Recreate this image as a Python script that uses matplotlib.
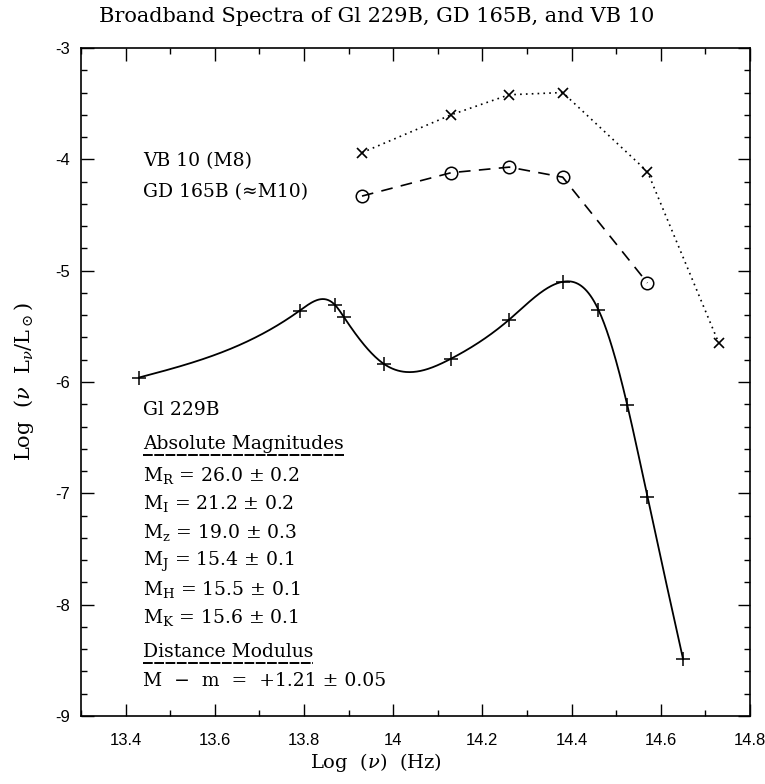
import numpy as np
import matplotlib
matplotlib.use('Agg')
import matplotlib.pyplot as plt
from matplotlib.ticker import MultipleLocator

# Gl 229B broadband points (log nu, log nu L_nu / L_sun)
gl_x = [13.43, 13.79, 13.87, 13.89, 13.98, 14.13, 14.26, 14.38, 14.46, 14.525, 14.57, 14.65]
gl_y = [-5.96, -5.36, -5.31, -5.42, -5.84, -5.79, -5.44, -5.10, -5.35, -6.21, -7.03, -8.49]

# VB 10 (M8)
vb_x = [13.93, 14.13, 14.26, 14.38, 14.57, 14.73]
vb_y = [-3.94, -3.60, -3.42, -3.40, -4.11, -5.65]

# GD 165B
gd_x = [13.93, 14.13, 14.26, 14.38, 14.57]
gd_y = [-4.33, -4.12, -4.07, -4.16, -5.11]

mag_labels = ['R', 'I', 'z', 'J', 'H', 'K']
mag_values = ['26.0 ± 0.2', '21.2 ± 0.2', '19.0 ± 0.3', '15.4 ± 0.1', '15.5 ± 0.1', '15.6 ± 0.1']


def natural_spline(x, y, xs):
    """Natural cubic spline through (x, y), evaluated at xs."""
    x = np.asarray(x, float)
    y = np.asarray(y, float)
    n = len(x)
    h = np.diff(x)
    A = np.zeros((n, n))
    r = np.zeros(n)
    A[0, 0] = A[-1, -1] = 1.0
    for i in range(1, n - 1):
        A[i, i - 1] = h[i - 1]
        A[i, i] = 2 * (h[i - 1] + h[i])
        A[i, i + 1] = h[i]
        r[i] = 6 * ((y[i + 1] - y[i]) / h[i] - (y[i] - y[i - 1]) / h[i - 1])
    M = np.linalg.solve(A, r)
    idx = np.clip(np.searchsorted(x, xs) - 1, 0, n - 2)
    x0, x1 = x[idx], x[idx + 1]
    hh = x1 - x0
    return (M[idx] * (x1 - xs) ** 3 / (6 * hh) + M[idx + 1] * (xs - x0) ** 3 / (6 * hh)
            + (y[idx] / hh - M[idx] * hh / 6) * (x1 - xs)
            + (y[idx + 1] / hh - M[idx + 1] * hh / 6) * (xs - x0))


plt.rcParams['mathtext.fontset'] = 'dejavuserif'
plt.rcParams['axes.unicode_minus'] = False
serif = 'DejaVu Serif'
sans = 'Liberation Sans'
fs = 13.5

fig = plt.figure(figsize=(7.65, 7.84), dpi=100)
ax = fig.add_axes([81 / 765, 1 - 716 / 784, 669 / 765, 668 / 784])

# Gl 229B: smooth curve through points
xs = np.linspace(gl_x[0], gl_x[-1], 600)
ax.plot(xs, natural_spline(gl_x, gl_y, xs), color='black', lw=1.3)
ax.plot(gl_x, gl_y, ls='none', marker='+', ms=10, mew=1.1, color='black')

# VB 10 dotted with crosses
ax.plot(vb_x, vb_y, color='black', lw=1.2, dashes=(1, 2.5), marker='x', ms=7.5, mew=1.2)

# GD 165B dashed with open circles
ax.plot(gd_x, gd_y, color='black', lw=1.2, dashes=(7, 5), marker='o', ms=9,
        mfc='none', mew=1.1)

ax.set_xlim(13.3, 14.8)
ax.set_ylim(-9, -3)
ax.xaxis.set_minor_locator(MultipleLocator(0.1))
ax.yaxis.set_major_locator(MultipleLocator(1))
ax.yaxis.set_minor_locator(MultipleLocator(0.2))
ax.set_xticks([13.4, 13.6, 13.8, 14.0, 14.2, 14.4, 14.6, 14.8])
ax.set_xticklabels(['13.4', '13.6', '13.8', '14', '14.2', '14.4', '14.6', '14.8'])
ax.tick_params(which='both', direction='in', top=True, right=True, width=1.0,
               labelsize=12, labelfontfamily=sans)
ax.tick_params(which='major', length=9)
ax.tick_params(axis='x', which='major', pad=12)
ax.tick_params(axis='y', which='major', pad=8)
ax.tick_params(which='minor', length=4.5)
for sp in ax.spines.values():
    sp.set_linewidth(1.2)

fig.text(0.493, 1 - 17 / 784, 'Broadband Spectra of Gl 229B, GD 165B, and VB 10',
         ha='center', va='center', family=serif, fontsize=15)
fig.text(0.492, 1 - 763 / 784, r'Log  ($\nu$)  (Hz)', ha='center', va='center',
         family=serif, fontsize=14)
fig.text(24 / 765, 1 - 382 / 784, r'Log  ($\nu$  L$_\nu$/L$_\odot$)', ha='center',
         va='center', rotation=90, family=serif, fontsize=15)


def ay(py):
    return 1 - (py - 48) / 668


tx = (143 - 81) / 669
ax.text(tx, ay(166), 'VB 10 (M8)', transform=ax.transAxes, family=serif, fontsize=fs, va='baseline')
ax.text(tx, ay(197), 'GD 165B (≈M10)', transform=ax.transAxes, family=serif, fontsize=fs, va='baseline')
ax.text(tx, ay(415), 'Gl 229B', transform=ax.transAxes, family=serif, fontsize=fs, va='baseline')
t1 = ax.text(tx, ay(449), 'Absolute Magnitudes', transform=ax.transAxes, family=serif,
             fontsize=fs, va='baseline')
for i, (b, v) in enumerate(zip(mag_labels, mag_values)):
    ax.text(tx, ay(481 + 28.4 * i), r'M$_\mathrm{%s}$ = %s' % (b, v), transform=ax.transAxes,
            family=serif, fontsize=fs, va='baseline')
t2 = ax.text(tx, ay(657), 'Distance Modulus', transform=ax.transAxes, family=serif,
             fontsize=fs, va='baseline')
ax.text(tx, ay(686), 'M  −  m  =  +1.21 ± 0.05', transform=ax.transAxes, family=serif,
        fontsize=fs, va='baseline')

# dashed underlines below the two headings
fig.canvas.draw()
inv = ax.transAxes.inverted()
for t, py in [(t1, 455), (t2, 663)]:
    bb = t.get_window_extent()
    x0 = inv.transform((bb.x0, 0))[0]
    x1 = inv.transform((bb.x1, 0))[0]
    ax.plot([x0, x1], [ay(py), ay(py)], transform=ax.transAxes, color='black',
            lw=1.4, dashes=(5, 0.8))

fig.savefig('out.png', dpi=100)
